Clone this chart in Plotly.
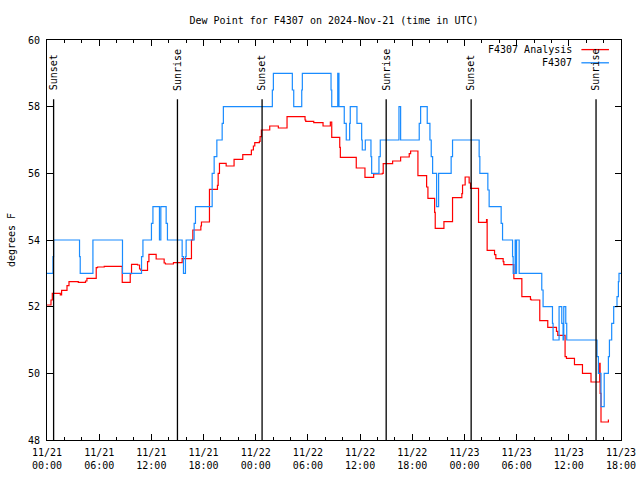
import pandas as pd
import plotly.graph_objects as go

# ---- data (hours since 2024-11-21 00:00 UTC) ----
obs_hours = [0.00, 0.69, 0.76, 3.74, 3.82, 5.28, 8.68, 10.87, 11.03, 12.01, 12.18, 12.93, 13.09,
             13.70, 13.85, 15.54, 15.69, 15.92, 16.00, 16.92, 17.07, 18.99, 19.22, 19.53, 20.14,
             20.28, 25.91, 26.03, 28.21, 28.37, 29.29, 29.36, 32.66, 32.74, 33.43, 33.57, 34.18,
             34.41, 34.80, 34.87, 35.64, 36.18, 36.25, 36.60, 37.25, 37.33, 38.17, 38.32, 40.47,
             40.66, 42.80, 42.96, 43.72, 44.03, 44.18, 44.34, 44.80, 45.03, 46.47, 46.63, 49.69,
             49.77, 50.69, 50.84, 52.22, 52.38, 53.53, 53.60, 53.83, 53.91, 53.99, 54.29, 56.89,
             57.04, 58.12, 58.19, 58.88, 59.19, 59.34, 59.42, 59.65, 59.76, 63.24, 63.40, 63.70,
             64.07, 64.55, 64.67, 64.93, 65.16, 65.54, 65.70, 65.77, 66.00]
obs_dewpt = [53, 53.5, 54, 53.5, 53, 54, 53, 53.5, 54, 54.5, 55, 54, 55,
             54.5, 54, 53.5, 53, 53.5, 54, 54.5, 55, 56, 56.5, 57, 57.5,
             58, 58.5, 59, 58.5, 58, 58.5, 59, 58.5, 58, 59, 58, 57.5,
             57, 57.5, 58, 57.5, 57, 56.7, 57, 56.5, 56, 56.5, 57, 58,
             57, 57.5, 58, 57.5, 57, 56.5, 56, 55, 56, 56.5, 57, 56.5,
             56, 55.5, 55, 54.5, 54, 53.5, 53, 54, 53, 54, 53, 52.5,
             52, 51.5, 51, 52, 51.5, 51, 52, 51.5, 51, 50.5, 50, 49,
             50, 50.5, 51, 51.5, 52, 52.3, 52.75, 53, 53]

ana_hours = [0.00, 0.46, 0.61, 1.53, 1.68, 2.30, 2.53, 3.60, 4.43, 4.59, 5.66, 5.81, 6.58,
             8.65, 9.57, 9.72, 10.41, 10.64, 10.80, 11.56, 11.72, 12.55, 13.47, 13.62, 14.54,
             15.54, 16.61, 16.77, 17.69, 17.76, 18.68, 19.60, 19.68, 19.83, 20.60, 21.51, 22.51,
             23.50, 23.73, 23.89, 24.42, 24.50, 24.65, 25.61, 26.60, 27.60, 29.67, 29.75, 30.67,
             31.74, 32.58, 32.74, 33.66, 33.73, 35.56, 36.56, 37.56, 38.55, 38.66, 39.74, 40.66,
             41.65, 41.81, 42.65, 43.65, 43.80, 44.57, 44.64, 45.64, 46.63, 47.70, 47.78, 48.08,
             48.54, 48.70, 49.62, 50.54, 50.61, 51.46, 51.61, 52.45, 52.53, 53.68, 54.60, 55.59,
             55.67, 56.66, 57.58, 58.58, 58.73, 59.57, 59.73, 60.65, 61.57, 62.55, 63.55, 63.60,
             63.70, 64.55, 64.62]
ana_dewpt = [52.05, 52.2, 52.4, 52.35, 52.49, 52.63, 52.75, 52.73, 52.77, 52.85, 53.17, 53.19, 53.21,
             52.73, 52.99, 53.27, 53.25, 53.13, 53.09, 53.35, 53.57, 53.43, 53.31, 53.28, 53.32,
             53.44, 54.0, 54.3, 54.42, 54.54, 55.52, 55.64, 56.0, 56.3, 56.22, 56.42, 56.56,
             56.7, 56.82, 56.92, 56.96, 57.1, 57.3, 57.42, 57.36, 57.7, 57.6, 57.56, 57.52,
             57.42, 57.54, 57.08, 56.78, 56.48, 56.16, 55.88, 55.98, 56.0, 56.29, 56.37, 56.49,
             56.59, 56.67, 55.93, 55.59, 55.25, 54.83, 54.35, 54.55, 55.27, 55.39, 55.65, 55.89,
             55.71, 55.55, 54.53, 54.61, 53.69, 53.56, 53.44, 53.35, 53.26, 52.84, 52.3, 52.22,
             52.2, 51.58, 51.38, 51.26, 51.14, 50.5, 50.45, 50.26, 50.0, 49.74, 50.3, 49.4,
             48.54, 48.6, 48.6]

sun_hours = [0.76, 15.0, 24.73, 39.0, 48.77, 63.13]
sun_labels = ["Sunset", "Sunrise", "Sunset", "Sunrise", "Sunset", "Sunrise"]

tick_hours = [0, 6, 12, 18, 24, 30, 36, 42, 48, 54, 60, 66]
tick_labels = ["11/21<br>00:00", "11/21<br>06:00", "11/21<br>12:00", "11/21<br>18:00",
               "11/22<br>00:00", "11/22<br>06:00", "11/22<br>12:00", "11/22<br>18:00",
               "11/23<br>00:00", "11/23<br>06:00", "11/23<br>12:00", "11/23<br>18:00"]

series_names = ["F4307 Analysis", "F4307"]
series_colors = ["#ff0000", "#1a8cff"]

start = pd.Timestamp("2024-11-21 00:00")
def to_time(hours):
    return start + pd.to_timedelta(hours, unit="h")

FONT = "DejaVu Sans Mono"

fig = go.Figure()
fig.add_trace(go.Scatter(x=to_time(ana_hours), y=ana_dewpt, mode="lines", name=series_names[0],
                         line=dict(color=series_colors[0], width=1.2, shape="hv"), showlegend=False))
fig.add_trace(go.Scatter(x=to_time(obs_hours), y=obs_dewpt, mode="lines", name=series_names[1],
                         line=dict(color=series_colors[1], width=1.2, shape="hv"), showlegend=False))

for h, lab in zip(sun_hours, sun_labels):
    t = to_time(h)
    fig.add_shape(type="line", x0=t, x1=t, y0=48, y1=58.22, xref="x", yref="y",
                  line=dict(color="black", width=1.3))
    fig.add_annotation(x=t, y=58.42, xref="x", yref="y", text=lab, textangle=-90,
                       showarrow=False, xanchor="center", yanchor="bottom",
                       font=dict(family=FONT, size=10, color="black"))

# legend (gnuplot style: text then line sample)
leg_y = [0.976, 0.943]
for name, col, ly in zip(series_names, series_colors, leg_y):
    fig.add_annotation(x=0.918, y=ly, xref="paper", yref="paper", text=name, showarrow=False,
                       xanchor="right", yanchor="middle", font=dict(family=FONT, size=10, color="black"))
    fig.add_shape(type="line", x0=0.931, x1=0.979, y0=ly, y1=ly, xref="paper", yref="paper",
                  line=dict(color=col, width=1.3))

fig.update_layout(
    width=640, height=480,
    margin=dict(l=47, r=19, t=40, b=40, autoexpand=False),
    paper_bgcolor="white", plot_bgcolor="white",
    font=dict(family=FONT, size=10, color="black"),
    title=dict(text="Dew Point for F4307 on 2024-Nov-21 (time in UTC)", x=0.5, xref="paper",
               y=1 - 20 / 480, yref="container", xanchor="center", yanchor="middle",
               font=dict(family=FONT, size=10, color="black")),
)
fig.update_xaxes(type="date", range=[to_time(0), to_time(66)],
                 tickmode="array", tickvals=to_time(tick_hours), ticktext=tick_labels,
                 ticks="inside", ticklen=6, tickcolor="black", showgrid=False, zeroline=False,
                 showline=True, linecolor="black", linewidth=1, mirror="ticks",
                 ticklabelstandoff=3,
                 minor=dict(ticks="inside", ticklen=3, tickcolor="black", tickmode="linear",
                            tick0=to_time(0), dtick=2 * 3600 * 1000, showgrid=False),
                 automargin=False)
fig.update_yaxes(range=[48, 60], tickmode="linear", tick0=48, dtick=2,
                 ticks="inside", ticklen=6, tickcolor="black", showgrid=False, zeroline=False,
                 showline=True, linecolor="black", linewidth=1, mirror="ticks",
                 ticklabelstandoff=4,
                 title=dict(text="degrees F", standoff=10, font=dict(family=FONT, size=10)),
                 automargin=False)

fig.write_html("out.html")
